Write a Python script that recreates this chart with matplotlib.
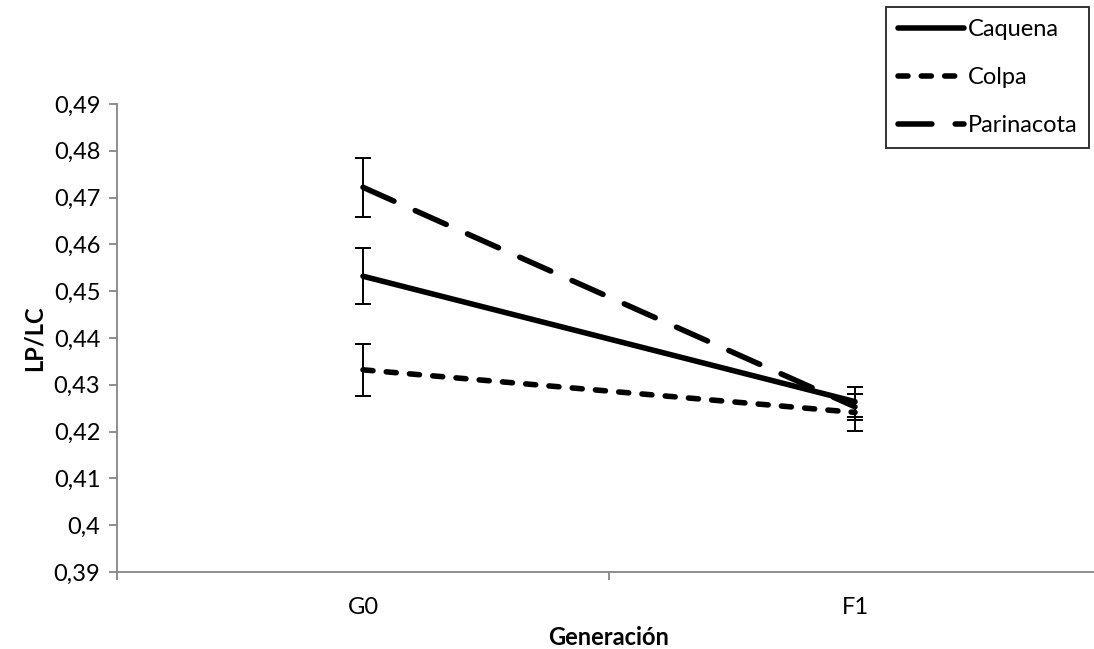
import numpy as np
import matplotlib
matplotlib.use('Agg')
from matplotlib import pyplot as plt

plt.rcParams['font.family'] = ['Lato', 'DejaVu Sans']

# data
generations = ['G0', 'F1']
series = ['Caquena', 'Colpa', 'Parinacota']
caquena = [0.4532, 0.4264]
colpa = [0.4332, 0.4241]
parinacota = [0.4722, 0.4253]
caquena_err = [0.0060, 0.0032]
colpa_err = [0.0056, 0.0040]
parinacota_err = [0.0063, 0.0028]
y_ticks = [0.39, 0.40, 0.41, 0.42, 0.43, 0.44, 0.45, 0.46, 0.47, 0.48, 0.49]

values = [caquena, colpa, parinacota]
errors = [caquena_err, colpa_err, parinacota_err]
dash_styles = [None, (0, (1.8, 2.4)), (0, (6.1, 4.2))]
fs = 17

fig = plt.figure(figsize=(10.94, 6.49), dpi=100)
ax = fig.add_axes([117 / 1094, 77 / 649, 984 / 1094, 468 / 649])

x = np.arange(len(generations)) + 0.5
for name, vals, errs, ds in zip(series, values, errors, dash_styles):
    line, = ax.plot(x, vals, color='black', lw=4, label=name,
                    solid_capstyle='round', dash_capstyle='round')
    if ds is not None:
        line.set_linestyle(ds)
    ax.errorbar(x, vals, yerr=errs, fmt='none', ecolor='black',
                elinewidth=1.4, capsize=6, capthick=1.4)

ax.set_xlim(0, len(generations))
ax.set_ylim(0.39, 0.49)

grey = '#868686'
for s in ['top', 'right']:
    ax.spines[s].set_visible(False)
for s in ['left', 'bottom']:
    ax.spines[s].set_color(grey)
    ax.spines[s].set_linewidth(1.3)

ax.set_yticks(y_ticks)
ax.set_yticklabels([('%g' % v).replace('.', ',') for v in y_ticks], fontsize=fs)
ax.tick_params(axis='y', direction='out', length=6, width=1.3, color=grey, pad=6)

ax.set_xticks([0, 1, 2])
ax.set_xticklabels([])
ax.tick_params(axis='x', direction='out', length=6, width=1.3, color=grey)
ax.set_xticks(x, minor=True)
ax.set_xticklabels(generations, minor=True, fontsize=fs)
ax.tick_params(axis='x', which='minor', length=0, pad=18)

ax.set_xlabel('Generación', fontsize=fs, fontweight='bold', labelpad=6)
ax.set_ylabel('LP/LC', fontsize=fs, fontweight='bold', labelpad=6)

leg = ax.legend(loc='upper right', bbox_to_anchor=(1089 / 1094, 1 - 7 / 649),
                bbox_transform=fig.transFigure, fontsize=fs, frameon=True,
                fancybox=False, edgecolor='black', handlelength=2.8,
                handletextpad=0.15, labelspacing=1.15, borderpad=0.5,
                borderaxespad=0)
leg.get_frame().set_linewidth(1.4)

fig.savefig('out.png', dpi=100)
